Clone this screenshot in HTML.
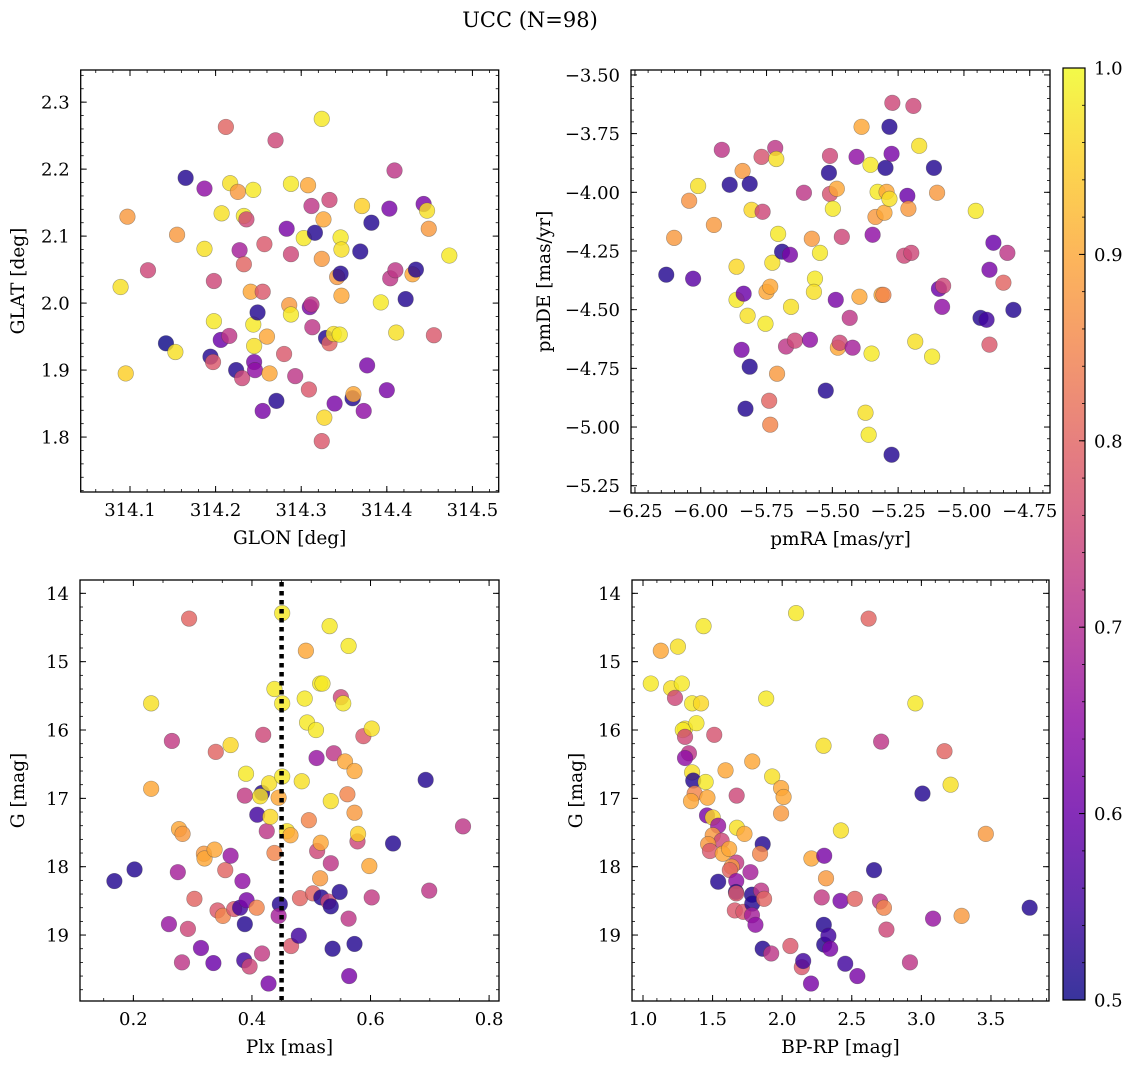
<!DOCTYPE html>
<html><head><meta charset="utf-8">
<style>
html,body{margin:0;padding:0;background:#fff;}
svg{display:block;font-family:"DejaVu Serif","Liberation Serif",serif;}
</style></head>
<body>
<svg id="fig" width="1136" height="1068" viewBox="0 0 1136 1068" xmlns="http://www.w3.org/2000/svg">
<defs>
<linearGradient id="plasma" x1="0" y1="1" x2="0" y2="0">
<stop offset="0" stop-color="#0d0887"/><stop offset="0.1" stop-color="#41049d"/><stop offset="0.2" stop-color="#6a00a8"/><stop offset="0.3" stop-color="#8f0da4"/><stop offset="0.4" stop-color="#b12a90"/><stop offset="0.5" stop-color="#cc4778"/><stop offset="0.6" stop-color="#e16462"/><stop offset="0.7" stop-color="#f2844b"/><stop offset="0.8" stop-color="#fca636"/><stop offset="0.9" stop-color="#fcce25"/><stop offset="1" stop-color="#f0f921"/>
</linearGradient>
</defs>
<text x="530" y="27" font-size="21" text-anchor="middle">UCC (N=98)</text>
</svg>
<script>
// ---------- data ----------
const glon = [314.097,314.089,314.095,314.121,314.142,314.155,314.153,314.165,314.187,314.187,314.194,314.198,314.197,314.198,314.207,314.206,314.212,314.217,314.216,314.224,314.226,314.228,314.231,314.233,314.233,314.236,314.241,314.244,314.245,314.244,314.245,314.246,314.249,314.255,314.257,314.255,314.26,314.263,314.27,314.271,314.28,314.283,314.286,314.288,314.288,314.288,314.293,314.303,314.308,314.309,314.31,314.312,314.312,314.313,314.316,314.324,314.324,314.326,314.324,314.327,314.329,314.333,314.333,314.338,314.339,314.342,314.346,314.346,314.347,314.347,314.345,314.36,314.361,314.371,314.369,314.373,314.377,314.382,314.393,314.4,314.403,314.404,314.41,314.409,314.411,314.422,314.43,314.434,314.443,314.447,314.449,314.455,314.473];
const glat = [2.129,2.024,1.895,2.049,1.940,2.102,1.927,2.187,2.171,2.081,1.920,2.033,1.912,1.973,2.134,1.945,2.263,2.179,1.951,1.900,2.166,2.079,1.888,2.058,2.130,2.125,2.017,2.169,1.936,1.968,1.912,1.900,1.986,2.017,2.088,1.839,1.950,1.895,2.243,1.854,1.924,2.111,1.997,2.178,2.073,1.983,1.891,2.097,2.176,1.871,1.994,2.145,1.998,1.964,2.105,2.275,2.066,2.125,1.794,1.829,1.948,1.940,2.154,1.954,1.850,2.039,2.044,2.098,2.080,2.011,1.953,1.858,1.864,2.145,2.077,1.839,1.907,2.120,2.001,1.870,2.141,2.037,2.049,2.198,1.956,2.006,2.043,2.050,2.148,2.138,2.111,1.952,2.071];
const prob1 = [.88,.97,.95,.75,.5,.88,.97,.52,.65,.97,.52,.75,.78,.98,.97,.6,.8,.97,.72,.52,.88,.68,.75,.8,.98,.75,.9,.98,.97,.98,.62,.65,.52,.78,.78,.62,.9,.9,.75,.52,.78,.62,.88,.98,.75,.98,.72,.98,.9,.78,.62,.72,.72,.72,.52,.98,.88,.9,.78,.96,.52,.8,.75,.97,.62,.88,.52,.98,.97,.9,.98,.52,.9,.95,.52,.65,.62,.52,.98,.62,.62,.72,.72,.72,.97,.52,.9,.52,.62,.97,.88,.78,.98];

const pmra = [-6.131,-6.029,-6.101,-6.044,-6.01,-5.95,-5.92,-5.89,-5.864,-5.864,-5.845,-5.837,-5.841,-5.83,-5.822,-5.814,-5.814,-5.807,-5.765,-5.769,-5.754,-5.75,-5.736,-5.74,-5.736,-5.728,-5.717,-5.713,-5.706,-5.71,-5.691,-5.676,-5.661,-5.657,-5.642,-5.608,-5.578,-5.585,-5.566,-5.547,-5.57,-5.525,-5.513,-5.509,-5.509,-5.498,-5.487,-5.483,-5.479,-5.464,-5.472,-5.434,-5.423,-5.408,-5.397,-5.389,-5.374,-5.362,-5.355,-5.351,-5.347,-5.336,-5.328,-5.313,-5.302,-5.306,-5.294,-5.298,-5.283,-5.283,-5.272,-5.275,-5.275,-5.227,-5.215,-5.211,-5.2,-5.192,-5.185,-5.17,-5.121,-5.114,-5.102,-5.095,-5.079,-5.083,-4.955,-4.937,-4.914,-4.903,-4.888,-4.903,-4.85,-4.835,-4.812];
const pmde = [-4.351,-4.368,-4.194,-4.036,-3.973,-4.139,-3.819,-3.968,-4.317,-4.458,-4.671,-4.432,-3.909,-4.922,-4.526,-3.964,-4.743,-4.075,-4.083,-3.849,-4.56,-4.424,-4.402,-4.888,-4.99,-4.3,-3.811,-3.858,-4.177,-4.773,-4.253,-4.657,-4.266,-4.488,-4.632,-4.002,-4.198,-4.628,-4.368,-4.258,-4.424,-4.845,-3.917,-3.845,-4.007,-4.07,-4.458,-3.985,-4.662,-4.19,-4.641,-4.535,-4.662,-3.849,-4.445,-3.721,-4.939,-5.033,-3.883,-4.687,-4.181,-4.105,-3.998,-4.437,-4.087,-4.437,-3.998,-3.896,-4.028,-3.721,-3.619,-3.836,-5.118,-4.27,-4.015,-4.07,-4.258,-3.632,-4.636,-3.802,-4.7,-3.896,-4.002,-4.411,-4.398,-4.488,-4.079,-4.535,-4.543,-4.33,-4.215,-4.649,-4.385,-4.258,-4.501];
const prob2 = [.52,.58,.88,.87,.97,.88,.72,.52,.96,.98,.62,.6,.88,.52,.97,.52,.52,.96,.75,.77,.98,.9,.9,.8,.85,.97,.72,.97,.98,.88,.52,.72,.62,.97,.75,.72,.88,.65,.98,.98,.97,.52,.52,.75,.77,.98,.62,.9,.9,.75,.75,.72,.68,.65,.9,.9,.97,.98,.98,.98,.65,.88,.98,.9,.9,.85,.9,.52,.97,.52,.75,.62,.52,.75,.6,.88,.75,.75,.97,.97,.98,.52,.88,.6,.75,.65,.98,.52,.55,.62,.6,.78,.8,.72,.52];

const plx = [0.168,0.202,0.23,0.23,0.265,0.275,0.26,0.277,0.283,0.282,0.294,0.292,0.303,0.314,0.319,0.32,0.337,0.339,0.342,0.335,0.351,0.355,0.364,0.364,0.37,0.38,0.384,0.388,0.39,0.391,0.388,0.387,0.396,0.409,0.408,0.417,0.414,0.419,0.425,0.429,0.431,0.417,0.428,0.438,0.438,0.445,0.451,0.451,0.451,0.447,0.445,0.459,0.465,0.466,0.479,0.481,0.484,0.489,0.491,0.493,0.496,0.503,0.508,0.509,0.51,0.515,0.519,0.516,0.515,0.517,0.531,0.533,0.533,0.529,0.533,0.536,0.538,0.548,0.55,0.554,0.557,0.561,0.563,0.563,0.564,0.573,0.573,0.578,0.579,0.573,0.588,0.598,0.602,0.602,0.638,0.693,0.699,0.756];
const gmag3 = [18.21,18.04,15.61,16.86,16.16,18.08,18.84,17.45,17.52,19.40,14.37,18.91,18.47,19.19,17.81,17.88,17.75,16.32,18.64,19.41,18.72,18.05,16.22,17.84,18.62,18.6,18.21,16.96,16.64,18.49,18.84,19.37,19.46,17.24,18.6,16.92,16.97,16.07,17.48,16.78,17.27,19.27,19.71,15.40,17.80,16.99,14.29,15.61,16.68,18.55,18.72,17.48,17.54,19.16,19.01,18.46,16.75,15.54,14.84,15.89,17.32,18.39,16.0,16.41,17.77,15.32,15.32,17.65,18.17,18.45,14.48,17.04,17.95,18.51,18.58,19.2,16.34,18.37,15.52,15.61,16.46,16.94,14.77,18.76,19.6,16.6,17.21,17.63,17.52,19.13,16.09,17.99,15.98,18.45,17.66,16.73,18.35,17.41];
const prob3 = [.52,.52,.97,.9,.73,.68,.66,.9,.88,.72,.8,.75,.8,.62,.88,.9,.9,.8,.78,.6,.85,.8,.96,.66,.78,.55,.65,.73,.98,.62,.52,.55,.75,.55,.85,.52,.97,.75,.72,.97,.96,.73,.62,.98,.85,.9,.98,.98,.98,.52,.68,.97,.9,.78,.55,.8,.97,.98,.9,.98,.85,.8,.98,.66,.75,.98,.98,.9,.88,.52,.98,.97,.72,.75,.52,.52,.72,.52,.75,.98,.9,.85,.98,.72,.62,.9,.88,.75,.95,.52,.78,.9,.97,.73,.52,.52,.72,.72];
const plxCut = 0.45;

const bprp = [1.056,1.128,1.202,1.251,1.279,1.23,1.353,1.417,1.435,1.302,1.286,1.302,1.384,1.512,1.33,1.302,1.353,1.361,1.45,1.371,1.345,1.463,1.46,1.501,1.54,1.501,1.565,1.468,1.481,1.573,1.619,1.593,1.673,1.675,1.729,1.67,1.637,1.624,1.54,1.67,1.668,1.67,1.66,1.721,1.772,1.783,1.785,1.783,1.808,1.849,1.87,1.86,1.841,1.86,1.921,1.785,1.885,1.928,1.992,2.01,1.992,2.059,2.141,2.151,2.207,2.1,2.21,2.284,2.297,2.302,2.315,2.299,2.302,2.332,2.345,2.422,2.419,2.453,2.522,2.54,2.621,2.66,2.703,2.711,2.731,2.749,2.918,2.957,3.008,3.084,3.166,3.21,3.289,3.463,3.778];
const gmag4 = [15.32,14.84,15.39,14.78,15.32,15.53,15.61,15.61,14.48,15.98,16.0,16.1,15.9,16.07,16.34,16.41,16.62,16.74,16.76,16.93,17.04,16.99,17.25,17.28,17.4,17.54,17.62,17.67,17.77,17.81,17.74,16.59,16.96,17.43,17.52,17.94,18.0,18.05,18.22,18.21,18.37,18.39,18.64,18.66,18.08,18.41,18.54,18.71,18.85,18.35,18.47,17.67,17.81,19.2,19.27,16.46,15.54,16.68,16.85,16.98,17.22,19.16,19.47,19.38,19.71,14.29,17.88,18.45,16.23,17.84,18.17,18.85,19.14,19.01,19.2,17.47,18.5,19.42,18.47,19.6,14.37,18.05,18.51,16.17,18.6,18.92,19.4,15.61,16.93,18.76,16.31,16.8,18.72,17.52,18.6];
const prob4 = [.98,.9,.97,.97,.98,.75,.98,.96,.98,.97,.98,.75,.98,.77,.72,.65,.97,.52,.98,.85,.9,.9,.62,.96,.66,.88,.75,.88,.78,.9,.9,.9,.75,.97,.9,.73,.88,.8,.52,.65,.52,.78,.78,.78,.68,.52,.52,.68,.65,.72,.8,.52,.85,.52,.72,.9,.98,.97,.9,.9,.88,.78,.78,.55,.62,.98,.9,.73,.97,.62,.88,.52,.52,.55,.62,.97,.62,.55,.8,.62,.8,.52,.72,.72,.85,.75,.72,.98,.52,.66,.8,.97,.88,.88,.52];

const ticks1x = [314.1,314.2,314.3,314.4,314.5], labels1x = ["314.1","314.2","314.3","314.4","314.5"];
const ticks1y = [1.8,1.9,2.0,2.1,2.2,2.3], labels1y = ["1.8","1.9","2.0","2.1","2.2","2.3"];
const ticks2x = [-6.25,-6.0,-5.75,-5.5,-5.25,-5.0,-4.75], labels2x = ["\u22126.25","\u22126.00","\u22125.75","\u22125.50","\u22125.25","\u22125.00","\u22124.75"];
const ticks2y = [-5.25,-5.0,-4.75,-4.5,-4.25,-4.0,-3.75,-3.5], labels2y = ["\u22125.25","\u22125.00","\u22124.75","\u22124.50","\u22124.25","\u22124.00","\u22123.75","\u22123.50"];
const ticks3x = [0.2,0.4,0.6,0.8], labels3x = ["0.2","0.4","0.6","0.8"];
const ticksGy = [14,15,16,17,18,19], labelsGy = ["14","15","16","17","18","19"];
const ticks4x = [1.0,1.5,2.0,2.5,3.0,3.5], labels4x = ["1.0","1.5","2.0","2.5","3.0","3.5"];
const ticksCb = [0.5,0.6,0.7,0.8,0.9,1.0], labelsCb = ["0.5","0.6","0.7","0.8","0.9","1.0"];

// ---------- drawing ----------
const NS = "http://www.w3.org/2000/svg";
const svg = document.getElementById("fig");
function mk(tag, attrs, parent){ const e=document.createElementNS(NS,tag); for(const k in attrs) e.setAttribute(k,attrs[k]); (parent||svg).appendChild(e); return e; }
const stops=[[13,8,135],[65,4,157],[106,0,168],[143,13,164],[177,42,144],[204,71,120],[225,100,98],[242,132,75],[252,166,54],[252,206,37],[240,249,33]];
function plasma(v){ let t=(v-0.5)/0.5; t=Math.max(0,Math.min(1,t))*10; const i=Math.min(9,Math.floor(t)), f=t-i; const a=stops[i], b=stops[i+1]; return "rgb("+a.map((c,j)=>Math.round(c+(b[j]-c)*f)).join(",")+")"; }
const TICKFS = 18, LABFS = 18.5;

function panel(name, box, xd, yd, xt, xl, xminor, yt, yl, yminor, xlab, ylab, xs, ys, cs, ylabX){
  const g = mk("g",{});
  
  
  const sx = v => box.x0 + (v-xd[0])/(xd[1]-xd[0])*(box.x1-box.x0);
  const sy = v => box.y0 + (v-yd[0])/(yd[1]-yd[0])*(box.y1-box.y0);
  for(let i=0;i<xs.length;i++){
    const c = mk("circle",{cx:sx(xs[i]),cy:sy(ys[i]),r:7.8,fill:plasma(cs[i]),"fill-opacity":0.82,stroke:"rgba(60,60,60,0.45)","stroke-width":0.6},g);
    
    
  }
  const frame = mk("rect",{x:box.x0,y:box.y0,width:box.x1-box.x0,height:box.y1-box.y0,fill:"none",stroke:"#000","stroke-width":1.3},g);
  
  
  const lo=Math.min(xd[0],xd[1]), hi=Math.max(xd[0],xd[1]);
  for(let v=Math.ceil(lo/xminor-1e-6)*xminor; v<=hi+1e-9; v+=xminor){ const x=sx(v);
    mk("line",{x1:x,x2:x,y1:box.y1,y2:box.y1-3,stroke:"#000","stroke-width":0.8},g);
    mk("line",{x1:x,x2:x,y1:box.y0,y2:box.y0+3,stroke:"#000","stroke-width":0.8},g); }
  const ylo=Math.min(yd[0],yd[1]), yhi=Math.max(yd[0],yd[1]);
  for(let v=Math.ceil(ylo/yminor-1e-6)*yminor; v<=yhi+1e-9; v+=yminor){ const y=sy(v);
    mk("line",{x1:box.x0,x2:box.x0+3,y1:y,y2:y,stroke:"#000","stroke-width":0.8},g);
    mk("line",{x1:box.x1,x2:box.x1-3,y1:y,y2:y,stroke:"#000","stroke-width":0.8},g); }
  xt.forEach((v,i)=>{ const x=sx(v);
    mk("line",{x1:x,x2:x,y1:box.y1,y2:box.y1-6,stroke:"#000","stroke-width":1},g);
    mk("line",{x1:x,x2:x,y1:box.y0,y2:box.y0+6,stroke:"#000","stroke-width":1},g);
    const t=mk("text",{x:x,y:box.y1+24,"font-size":TICKFS,"text-anchor":"middle"},g); t.textContent=xl[i];
    
     });
  yt.forEach((v,i)=>{ const y=sy(v);
    mk("line",{x1:box.x0,x2:box.x0+6,y1:y,y2:y,stroke:"#000","stroke-width":1},g);
    mk("line",{x1:box.x1,x2:box.x1-6,y1:y,y2:y,stroke:"#000","stroke-width":1},g);
    const t=mk("text",{x:box.x0-11,y:y+6.5,"font-size":TICKFS,"text-anchor":"end"},g); t.textContent=yl[i];
    
     });
  const xa=mk("text",{x:(box.x0+box.x1)/2,y:box.y1+52,"font-size":LABFS,"text-anchor":"middle"},g); xa.textContent=xlab;
  
  
  const cy=(box.y0+box.y1)/2;
  const ya=mk("text",{x:ylabX,y:cy,"font-size":LABFS,"text-anchor":"middle",transform:"rotate(-90 "+ylabX+" "+cy+")"},g); ya.textContent=ylab;
  
  
  return {sx,sy,g};
}

panel("glon-glat-panel",{x0:80.7,x1:498.7,y0:70,y1:492},[314.0424,314.5307],[2.348,1.718],ticks1x,labels1x,0.02,ticks1y,labels1y,0.02,"GLON [deg]","GLAT [deg]",glon,glat,prob1,24);
panel("pm-panel",{x0:631,x1:1050,y0:70,y1:493},[-6.265,-4.673],[-3.479,-5.281],ticks2x,labels2x,0.05,ticks2y,labels2y,0.05,"pmRA [mas/yr]","pmDE [mas/yr]",pmra,pmde,prob2,550);
const p3 = panel("plx-g-panel",{x0:80,x1:499,y0:580,y1:1001},[0.110,0.8167],[13.805,19.965],ticks3x,labels3x,0.05,ticksGy,labelsGy,0.2,"Plx [mas]","G [mag]",plx,gmag3,prob3,24);
const cut = mk("line",{x1:p3.sx(plxCut),x2:p3.sx(plxCut),y1:582,y2:1000,stroke:"#000","stroke-width":4.5,"stroke-dasharray":"4.5 4.5"},p3.g);


panel("cmd-panel",{x0:632,x1:1049,y0:580,y1:1001},[0.921,3.917],[13.805,19.965],ticks4x,labels4x,0.1,ticksGy,labelsGy,0.2,"BP-RP [mag]","G [mag]",bprp,gmag4,prob4,582);

const cb = mk("g",{});


const cbx0=1063, cbx1=1085, cby0=68, cby1=1000;
const cyv = v => cby1 - (v-0.5)/0.5*(cby1-cby0);
mk("rect",{x:cbx0,y:cby0,width:cbx1-cbx0,height:cby1-cby0,fill:"url(#plasma)","fill-opacity":0.82},cb);
mk("rect",{x:cbx0,y:cby0,width:cbx1-cbx0,height:cby1-cby0,fill:"none",stroke:"#000","stroke-width":1.2},cb);
for(let v=0.52; v<1.0-1e-9; v+=0.02){ const y=cyv(v); mk("line",{x1:cbx1,x2:cbx1-3,y1:y,y2:y,stroke:"#000","stroke-width":0.8},cb); }
ticksCb.forEach((v,i)=>{ const y=cyv(v);
  mk("line",{x1:cbx1,x2:cbx1-6,y1:y,y2:y,stroke:"#000","stroke-width":1},cb);
  const t=mk("text",{x:cbx1+9,y:y+6.5,"font-size":TICKFS},cb); t.textContent=labelsCb[i];
  
   });
</script>
</body></html>
